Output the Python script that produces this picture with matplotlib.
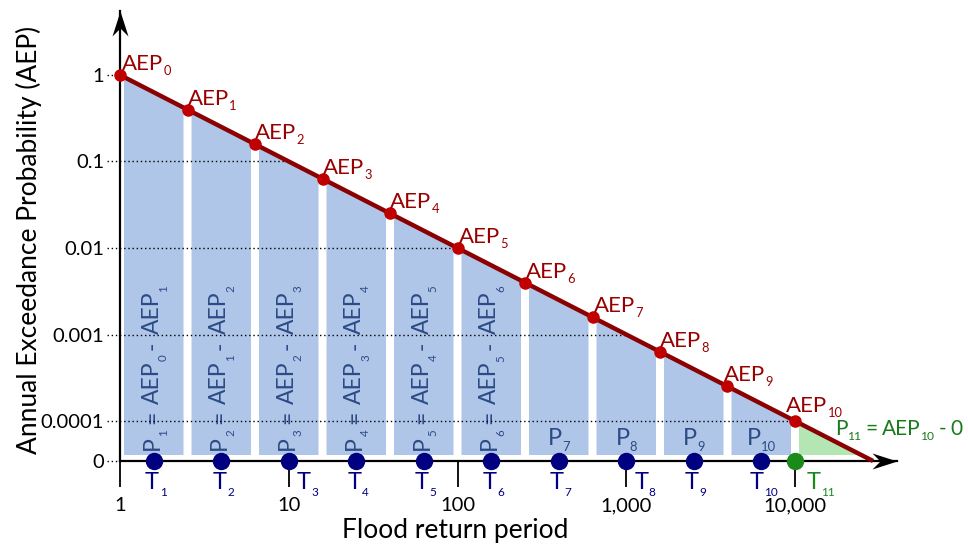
import numpy as np
import matplotlib
matplotlib.use("Agg")
import matplotlib.pyplot as plt
from matplotlib.path import Path
from matplotlib.patches import Polygon
from matplotlib.font_manager import FontProperties

FAMILY = ["Lato", "DejaVu Sans"]
plt.rcParams["font.family"] = FAMILY

# Exceedance curve samples AEP_0 ... AEP_10 (return period, probability)
aep_periods = [1, 2.512, 6.310, 15.85, 39.81, 100, 251.2, 631.0, 1585, 3981, 10000]
aep_values = [1.0, 0.3981, 0.1585, 0.06310, 0.02512, 0.01, 0.003981,
              0.001585, 0.0006310, 0.0002512, 0.0001]
# Representative return period of each interval (T_1 ... T_10) and of the tail (T_11)
t_periods = [1.585, 3.981, 10, 25.12, 63.10, 158.5, 398.1, 1000, 2512, 6310]
t_tail = 10000
x_ticks = [1, 10, 100, 1000, 10000]
x_tick_labels = ["1", "10", "100", "1,000", "10,000"]
y_ticks = [1e-4, 1e-3, 1e-2, 0.1, 1]
y_tick_labels = ["0.0001", "0.001", "0.01", "0.1", "1"]

# layout / styling
W, H = 968, 545
AX_L, AX_R, AX_B, AX_T = 120, 897, 461, 11      # pixel extents of the axes box
DEC_X, DEC_Y = 168.75, 86.5                      # pixels per decade
y_floor = 10 ** (-(AX_B - 75) / DEC_Y)           # plotted as "0"
y_top = 10 ** ((75 - AX_T) / DEC_Y)
x_max = 10 ** ((AX_R - AX_L) / DEC_X)
bar_floor = y_floor * 10 ** (6 / DEC_Y)
gap = 10 ** (4 / DEC_X)
PT = 72 / 100                                    # points per pixel

RED_LINE = "#8b0000"
RED_DOT = "#c00000"
RED_TXT = "#990000"
BAR = "#afc6e8"
BAR_TXT = "#2c4b86"
NAVY = "#000080"
GREEN_FILL = "#b3e6b3"
GREEN = "#1a8a1a"
GREEN_TXT = "#1b7a1b"

fig = plt.figure(figsize=(W / 100, H / 100), dpi=100)
ax = fig.add_axes([AX_L / W, (H - AX_B) / H, (AX_R - AX_L) / W, (AX_B - AX_T) / H])
ax.set_xscale("log")
ax.set_yscale("log")
ax.set_xlim(1, x_max)
ax.set_ylim(y_floor, y_top)
renderer = fig.canvas.get_renderer()


def ink_width(s, size):
    prop = FontProperties(family=FAMILY, size=size)
    w, _, _ = renderer.get_text_width_height_descent(s, prop, ismath=False)
    return w


def sub_label(xy, segs, size, color, offset=(0, 0), rot=0, ha="left",
              sub_ratio=0.55, drop=6, gaps=(2, 6, 6), zorder=7):
    """Draw text with subscripts.  segs = [(text, is_sub), ...]; offsets in pixels.
    gaps = (main->sub, sub->main, main->main) spacing in pixels."""
    sub_size = size * sub_ratio
    widths = [ink_width(s, sub_size if sub else size) for s, sub in segs]
    adv = [0.0]
    for i in range(1, len(segs)):
        prev_sub, cur_sub = segs[i - 1][1], segs[i][1]
        g = gaps[0] if cur_sub else (gaps[1] if prev_sub else gaps[2])
        adv.append(adv[-1] + widths[i - 1] + g)
    total = adv[-1] + widths[-1]
    shift = {"left": 0.0, "center": -total / 2, "right": -total}[ha]
    r = np.deg2rad(rot)
    ux, uy = np.cos(r), np.sin(r)
    nx, ny = np.sin(r), -np.cos(r)
    for (s, sub), a in zip(segs, adv):
        d = drop if sub else 0.0
        px = offset[0] + ux * (a + shift) + nx * d
        py = offset[1] + uy * (a + shift) + ny * d
        ax.annotate(s, xy=xy, xytext=(px * PT, py * PT), textcoords="offset points",
                    rotation=rot, rotation_mode="anchor", ha="left", va="baseline",
                    fontsize=sub_size if sub else size, color=color,
                    annotation_clip=False, zorder=zorder)


# exceedance curve, extended down to the "0" level
cx = np.array(aep_periods + [1 / y_floor])
cy = np.array(aep_values + [y_floor])


def curve(x):
    return 10 ** np.interp(np.log10(x), np.log10(cx), np.log10(cy))


def curve_inv(y):
    return 10 ** np.interp(-np.log10(y), -np.log10(cy), np.log10(cx))


# interval bars P_1 ... P_10
for k in range(1, len(aep_periods)):
    xl = aep_periods[k - 1] * gap
    xr = aep_periods[k] / gap
    poly = Polygon([(xl, bar_floor), (xl, curve(xl)), (xr, curve(xr)), (xr, bar_floor)],
                   closed=True, facecolor=BAR, edgecolor="none", zorder=1)
    ax.add_patch(poly)
    xc = np.sqrt(xl * xr)
    if k <= 6:
        segs = [("P", False), (str(k), True), ("=", False), ("AEP", False),
                (str(k - 1), True), ("-", False), ("AEP", False), (str(k), True)]
        sub_label((xc, bar_floor), segs, 16.5, BAR_TXT, offset=(5, 5), rot=90,
                  sub_ratio=0.5, drop=8, gaps=(0, 5, 7), zorder=3)
    else:
        segs = [("P", False), (str(k), True)]
        sub_label((xc, bar_floor), segs, 17, BAR_TXT, offset=(0, 10), ha="center",
                  sub_ratio=0.55, drop=6, gaps=(0, 5, 5), zorder=3)

# tail triangle P_11
xl = t_tail * gap
tri = Polygon([(xl, bar_floor), (xl, curve(xl)), (curve_inv(bar_floor), bar_floor)],
              closed=True, facecolor=GREEN_FILL, edgecolor="none", zorder=1)
ax.add_patch(tri)
sub_label((aep_periods[-1], aep_values[-1]),
          [("P", False), ("11", True), ("=", False), ("AEP", False), ("10", True),
           ("-", False), ("0", False)],
          15, GREEN_TXT, offset=(40, -14), sub_ratio=0.58, drop=5, gaps=(0, 4, 4))

# dotted guides from the y axis to the curve
x_start = 10 ** (-13 / DEC_X)
for yv in y_ticks:
    ax.plot([x_start, curve_inv(yv)], [yv, yv], color="black", lw=1.0,
            ls=(0, (1, 2)), clip_on=False, zorder=3)
ax.plot([x_start, 1], [y_floor, y_floor], color="black", lw=1.0,
        ls=(0, (1, 2)), clip_on=False, zorder=3)

# curve and sample points
ax.plot(cx, cy, color=RED_LINE, lw=3.2, solid_capstyle="butt", zorder=5, clip_on=False)
ax.plot(aep_periods, aep_values, "o", color=RED_DOT, ms=8, zorder=6, clip_on=False)
nudges = [2, 0, 0, 0, 0, 1, 1, 1, 0, -4, -9]
for k, (xv, yv) in enumerate(zip(aep_periods, aep_values)):
    sub_label((xv, yv), [("AEP", False), (str(k), True)], 16, RED_TXT,
              offset=(nudges[k], 5 if k < 10 else 9), sub_ratio=0.58, drop=5,
              gaps=(0.5, 5, 5))

# representative return periods on the axis
ax.plot(t_periods, [y_floor] * len(t_periods), "o", color=NAVY, ms=11.5,
        zorder=8, clip_on=False)
ax.plot([t_tail], [y_floor], "o", color=GREEN, ms=11.5, zorder=8, clip_on=False)
for k, tv in enumerate(t_periods, start=1):
    on_tick = any(abs(np.log10(tv) - np.log10(t)) < 0.01 for t in x_ticks)
    sub_label((tv, y_floor), [("T", False), (str(k), True)], 17, NAVY,
              offset=(8 if on_tick else 2, -28), ha="left" if on_tick else "center",
              sub_ratio=0.5, drop=7, gaps=(0.5, 5, 5), zorder=8)
sub_label((t_tail, y_floor), [("T", False), ("11", True)], 17, GREEN,
          offset=(12, -28), sub_ratio=0.5, drop=7, gaps=(0.5, 5, 5), zorder=8)

# axes: spines, ticks, arrowheads
for side in ("top", "right"):
    ax.spines[side].set_visible(False)
for side in ("left", "bottom"):
    ax.spines[side].set_linewidth(1.6)
    ax.spines[side].set_zorder(4)

ax.set_xticks(x_ticks)
ax.set_xticklabels(x_tick_labels)
ax.xaxis.set_minor_locator(matplotlib.ticker.NullLocator())
ax.tick_params(axis="x", direction="out", length=19, width=1.3, pad=7, labelsize=14.5)

ax.set_yticks([y_floor] + y_ticks)
ax.set_yticklabels(["0"] + y_tick_labels)
ax.yaxis.set_minor_locator(matplotlib.ticker.NullLocator())
ax.tick_params(axis="y", length=0, pad=11.5, labelsize=14.5)

head_r = Path([(0, 0), (-1, 0.32), (-0.68, 0), (-1, -0.32), (0, 0)],
              [Path.MOVETO, Path.LINETO, Path.LINETO, Path.LINETO, Path.CLOSEPOLY])
head_u = Path([(0, 0), (-0.32, -1), (0, -0.68), (0.32, -1), (0, 0)],
              [Path.MOVETO, Path.LINETO, Path.LINETO, Path.LINETO, Path.CLOSEPOLY])
ax.plot([x_max], [y_floor], marker=head_r, ms=36, color="black", mew=0,
        clip_on=False, zorder=9)
ax.plot([1], [y_top], marker=head_u, ms=36, color="black", mew=0,
        clip_on=False, zorder=9)

fig.text(455 / W, 1 - 538 / H, "Flood return period", ha="center", va="baseline",
         fontsize=19)
fig.text(29 / W, 1 - 240 / H, "Annual Exceedance Probability (AEP)", rotation=90,
         ha="center", va="center", fontsize=19)

fig.savefig("out.png", dpi=100)
